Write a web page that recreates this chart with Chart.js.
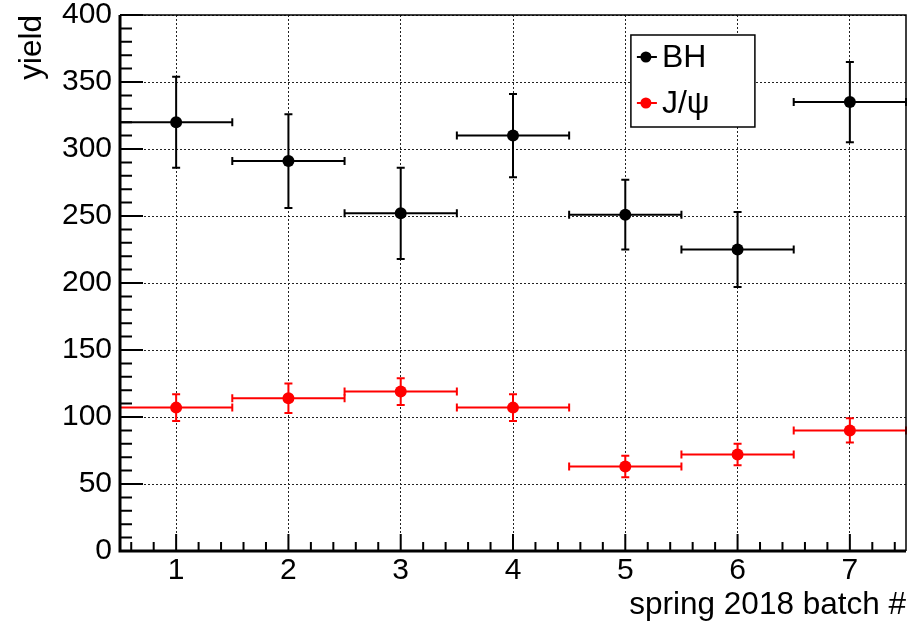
<!DOCTYPE html>
<html>
<head>
<meta charset="utf-8">
<script src="https://cdn.jsdelivr.net/npm/chart.js@4/dist/chart.umd.min.js"></script>
<style>
  html, body { margin: 0; padding: 0; background: #fff; }
  canvas { display: block; }
</style>
</head>
<body>
<canvas id="chart" width="912" height="624"></canvas>
<script>
// data
const batches = [1, 2, 3, 4, 5, 6, 7];
const bhYield = [320, 291, 252, 310, 251, 225, 335];
const bhErr = [34, 35, 34, 31, 26, 28, 30];
const jpsiYield = [107, 114, 119, 107, 63, 72, 90];
const jpsiErr = [10, 11, 10, 10, 8, 8, 9];
const yTicks = [0, 50, 100, 150, 200, 250, 300, 350, 400];
const binHalf = 0.5;

const FONT = "'Liberation Sans', Arial, Helvetica, sans-serif";

function toPoints(ys, errs) {
  return batches.map((x, i) => ({ x: x, y: ys[i], e: errs[i] }));
}

// error bars (x = bin width, y = stat error), drawn under the markers
const errorBars = {
  id: 'errorBars',
  beforeDatasetsDraw(chart) {
    const ctx = chart.ctx;
    const xs = chart.scales.x, ys = chart.scales.y;
    chart.data.datasets.forEach(ds => {
      ctx.save();
      ctx.strokeStyle = ds.borderColor;
      ctx.lineWidth = 2;
      ds.data.forEach(p => {
        const px = xs.getPixelForValue(p.x);
        const py = ys.getPixelForValue(p.y);
        const x0 = xs.getPixelForValue(p.x - binHalf);
        const x1 = xs.getPixelForValue(p.x + binHalf);
        const yTop = ys.getPixelForValue(p.y + p.e);
        const yBot = ys.getPixelForValue(p.y - p.e);
        ctx.beginPath();
        ctx.moveTo(x0, py); ctx.lineTo(x1, py);
        ctx.moveTo(x0, py - 4); ctx.lineTo(x0, py + 4);
        ctx.moveTo(x1, py - 4); ctx.lineTo(x1, py + 4);
        ctx.moveTo(px, yTop); ctx.lineTo(px, yBot);
        ctx.moveTo(px - 4, yTop); ctx.lineTo(px + 4, yTop);
        ctx.moveTo(px - 4, yBot); ctx.lineTo(px + 4, yBot);
        ctx.stroke();
      });
      ctx.restore();
    });
  }
};

// ROOT style frame with inward major/minor ticks
const frameTicks = {
  id: 'frameTicks',
  afterDraw(chart) {
    const ctx = chart.ctx;
    const a = chart.chartArea;
    const xs = chart.scales.x, ys = chart.scales.y;
    ctx.save();
    ctx.strokeStyle = '#000';
    ctx.lineWidth = 2;
    ctx.beginPath();
    for (let v = 0; v <= 400; v += 10) {
      const py = ys.getPixelForValue(v);
      const len = v % 50 === 0 ? 23 : 12;
      ctx.moveTo(a.left, py); ctx.lineTo(a.left + len, py);
    }
    for (let k = 3; k <= 37; k++) {
      const v = k / 5;
      const px = xs.getPixelForValue(v);
      const len = k % 5 === 0 ? 17 : 9;
      ctx.moveTo(px, a.bottom); ctx.lineTo(px, a.bottom - len);
    }
    ctx.stroke();
    ctx.lineWidth = 1.5;
    ctx.beginPath();
    ctx.moveTo(a.left, a.top); ctx.lineTo(a.right, a.top); ctx.lineTo(a.right, a.bottom);
    ctx.stroke();
    ctx.lineWidth = 3;
    ctx.beginPath();
    ctx.moveTo(a.left, a.top); ctx.lineTo(a.left, a.bottom); ctx.lineTo(a.right, a.bottom);
    ctx.stroke();

    // legend box
    const lx = a.left + 0.650 * (a.right - a.left);
    const ly = a.top + 20;
    const lw = 124, lh = 92;
    ctx.fillStyle = '#fff';
    ctx.fillRect(lx, ly, lw, lh);
    ctx.lineWidth = 1.5;
    ctx.strokeRect(lx, ly, lw, lh);
    chart.data.datasets.forEach((ds, i) => {
      const cy = ly + 22 + i * 46;
      ctx.strokeStyle = ds.borderColor;
      ctx.fillStyle = ds.backgroundColor;
      ctx.lineWidth = 2;
      ctx.beginPath();
      ctx.moveTo(lx + 6, cy); ctx.lineTo(lx + 26, cy);
      ctx.stroke();
      ctx.beginPath();
      ctx.arc(lx + 15, cy, 5.5, 0, Math.PI * 2);
      ctx.fill();
      ctx.fillStyle = '#000';
      ctx.font = '32px ' + FONT;
      ctx.textBaseline = 'middle';
      ctx.textAlign = 'left';
      ctx.fillText(ds.label, lx + 31, cy + 1);
    });
    ctx.restore();
  }
};

new Chart(document.getElementById('chart'), {
  type: 'scatter',
  data: {
    datasets: [
      {
        label: 'BH',
        data: toPoints(bhYield, bhErr),
        borderColor: '#000',
        backgroundColor: '#000',
        pointRadius: 6,
        pointBorderWidth: 0
      },
      {
        label: 'J/\u03c8',
        data: toPoints(jpsiYield, jpsiErr),
        borderColor: '#ff0000',
        backgroundColor: '#ff0000',
        pointRadius: 6,
        pointBorderWidth: 0
      }
    ]
  },
  options: {
    responsive: false,
    animation: false,
    devicePixelRatio: 1,
    layout: { padding: { top: 15, right: 5, left: 0, bottom: 0 } },
    plugins: {
      legend: { display: false },
      tooltip: { enabled: false }
    },
    scales: {
      x: {
        type: 'linear',
        min: 0.5,
        max: 7.5,
        afterBuildTicks: s => { s.ticks = batches.map(v => ({ value: v })); },
        afterFit: s => { s.height = 73; s.paddingLeft = 0; s.paddingRight = 0; },
        grid: { color: '#222', lineWidth: 1, drawTicks: false },
        border: { display: false, dash: [2, 2] },
        ticks: { color: '#000', padding: 2, font: { family: FONT, size: 30 } },
        title: {
          display: true, text: 'spring 2018 batch #', align: 'end', color: '#000',
          font: { family: FONT, size: 31.5 }, padding: { top: 5, bottom: 0 }
        }
      },
      y: {
        min: 0,
        max: 400,
        afterBuildTicks: s => { s.ticks = yTicks.map(v => ({ value: v })); },
        afterFit: s => { s.width = 120; s.paddingTop = 0; s.paddingBottom = 0; },
        grid: { color: '#222', lineWidth: 1, drawTicks: false },
        border: { display: false, dash: [2, 2] },
        ticks: { color: '#000', padding: 8, font: { family: FONT, size: 30 } },
        title: {
          display: true, text: 'yield', align: 'end', color: '#000',
          font: { family: FONT, size: 31.5 }, padding: { top: 13, bottom: 0 }
        }
      }
    }
  },
  plugins: [errorBars, frameTicks]
});
</script>
</body>
</html>
